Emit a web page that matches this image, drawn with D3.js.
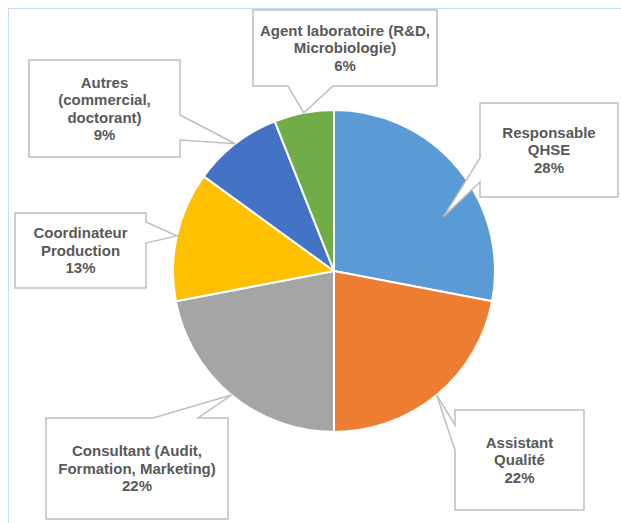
<!DOCTYPE html>
<html>
<head>
<meta charset="utf-8">
<script src="https://cdn.jsdelivr.net/npm/d3@7"></script>
<style>
  body { margin: 0; background: #fff; }
  svg { display: block; }
</style>
</head>
<body>
<div id="chart"></div>
<script>
// Chart data
const categories = ["Responsable QHSE", "Assistant Qualité", "Consultant (Audit, Formation, Marketing)",
    "Coordinateur Production", "Autres (commercial, doctorant)", "Agent laboratoire (R&D, Microbiologie)"];
const values = [28, 22, 22, 13, 9, 6];
const colors = ["#5B9BD5", "#ED7D31", "#A5A5A5", "#FFC000", "#4472C4", "#70AD47"];
// label text, broken the way the callouts show it
const labelLines = [
    ["Responsable", "QHSE"],
    ["Assistant", "Qualité"],
    ["Consultant (Audit,", "Formation, Marketing)"],
    ["Coordinateur", "Production"],
    ["Autres", "(commercial,", "doctorant)"],
    ["Agent laboratoire (R&D,", "Microbiologie)"]
];

const width = 621;
const height = 523;
const cx = 334, cy = 271, radius = 161;

// callout boxes: x0,x1,y0,y1, side holding the pointer, pointer base, where the tip sits
const callouts = [
    { x0: 480, x1: 618, y0: 103, y1: 197, side: "left", b0: 158, b1: 182, tipR: 0.76, tipDa: 0.23 },
    { x0: 455, x1: 584, y0: 410, y1: 510, side: "left", b0: 425, b1: 450, tipR: 1.0, tipDa: 0 },
    { x0: 46, x1: 228, y0: 418, y1: 519, side: "top", b0: 153, b1: 198, tipR: 1.0, tipDa: 0 },
    { x0: 15, x1: 146, y0: 213, y1: 288, side: "right", b0: 222, b1: 243, tipR: 1.0, tipDa: 0 },
    { x0: 29, x1: 180, y0: 60, y1: 157, side: "right", b0: 115, b1: 140, tipR: 1.0, tipDa: 0 },
    { x0: 253, x1: 437, y0: 10, y1: 86, side: "bottom", b0: 288, b1: 333, tipR: 1.0, tipDa: 0 }
];

const svg = d3.select("#chart")
    .append("svg")
    .attr("width", width)
    .attr("height", height);

// chart area frame (only left/top edges fall inside the picture)
svg.append("rect")
    .attr("x", 8.5)
    .attr("y", 8.5)
    .attr("width", width + 20)
    .attr("height", height + 20)
    .attr("fill", "#fff")
    .attr("stroke", "#C9DBEE")
    .attr("stroke-width", 1);

const total = d3.sum(values);
const data = categories.map((c, i) => ({ name: c, value: values[i], lines: labelLines[i], color: colors[i] }));

const pie = d3.pie()
    .value(d => d.value)
    .sort(null);

const arc = d3.arc()
    .innerRadius(0)
    .outerRadius(radius);

const arcs = pie(data);

const g = svg.append("g")
    .attr("transform", `translate(${cx},${cy})`);

g.selectAll("path")
    .data(arcs)
    .enter()
    .append("path")
    .attr("d", arc)
    .attr("fill", d => d.data.color)
    .attr("stroke", "#fff")
    .attr("stroke-width", 2)
    .attr("stroke-linejoin", "round");

const pct = d3.format(".0%");

// Build a callout path: rectangle with a wedge toward the tip
function calloutPath(c, tip) {
    const [tx, ty] = tip;
    const p = d3.path();
    p.moveTo(c.x0, c.y0);
    if (c.side === "top") { p.lineTo(c.b0, c.y0); p.lineTo(tx, ty); p.lineTo(c.b1, c.y0); }
    p.lineTo(c.x1, c.y0);
    if (c.side === "right") { p.lineTo(c.x1, c.b0); p.lineTo(tx, ty); p.lineTo(c.x1, c.b1); }
    p.lineTo(c.x1, c.y1);
    if (c.side === "bottom") { p.lineTo(c.b1, c.y1); p.lineTo(tx, ty); p.lineTo(c.b0, c.y1); }
    p.lineTo(c.x0, c.y1);
    if (c.side === "left") { p.lineTo(c.x0, c.b1); p.lineTo(tx, ty); p.lineTo(c.x0, c.b0); }
    p.closePath();
    return p.toString();
}

const labels = svg.selectAll("g.callout")
    .data(arcs)
    .enter()
    .append("g")
    .attr("class", "callout");

labels.append("path")
    .attr("d", (d, i) => {
        const c = callouts[i];
        const a = (d.startAngle + d.endAngle) / 2 + c.tipDa;
        const r = radius * c.tipR;
        const tip = [cx + r * Math.sin(a), cy - r * Math.cos(a)];
        return calloutPath(c, tip);
    })
    .attr("fill", "#fff")
    .attr("stroke", "#BFBFBF")
    .attr("stroke-width", 1.5);

const lineH = 17.5;

labels.append("text")
    .attr("text-anchor", "middle")
    .attr("font-family", "'Liberation Sans', Arial, sans-serif")
    .attr("font-weight", "bold")
    .attr("font-size", "15px")
    .attr("fill", "#595959")
    .each(function (d, i) {
        const c = callouts[i];
        const lines = d.data.lines.concat([pct(d.data.value / total)]);
        const xm = (c.x0 + c.x1) / 2;
        const ym = (c.y0 + c.y1) / 2;
        const startY = ym - (lines.length - 1) * lineH / 2;
        d3.select(this).selectAll("tspan")
            .data(lines)
            .enter()
            .append("tspan")
            .attr("x", xm)
            .attr("y", (_, k) => startY + k * lineH)
            .attr("dy", "0.35em")
            .text(t => t);
    });
</script>
</body>
</html>
